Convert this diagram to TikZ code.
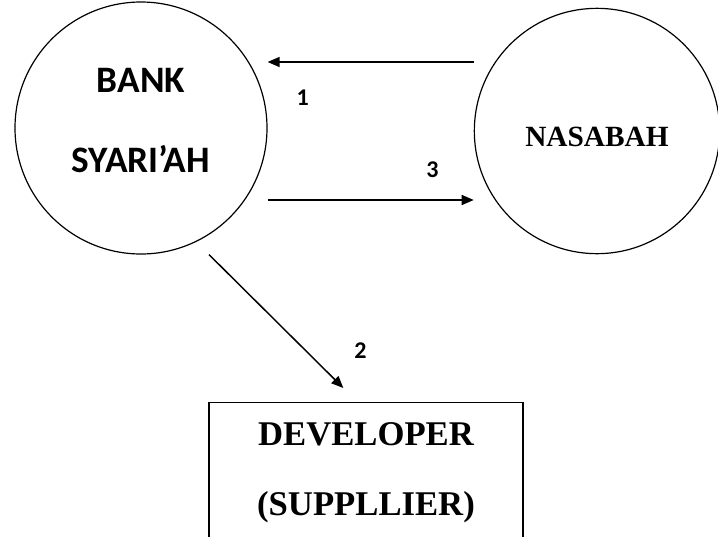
\documentclass[tikz,border=0pt]{standalone}
\usepackage{fontspec}
\setmainfont{Liberation Serif}
\newfontfamily\calibri{Carlito}
\usetikzlibrary{arrows.meta}

\tikzset{
  party/.style={draw, circle, line width=0.9pt, inner sep=0pt, align=center},
  flow/.style={line width=1.1pt, -{Triangle[length=9pt,width=7.5pt]}},
  num/.style={font=\calibri\bfseries\fontsize{18}{20}\selectfont}
}

\begin{document}
\begin{tikzpicture}[x=0.75pt, y=-0.75pt]
    \clip (0, 0) rectangle (718, 536);
    % the three parties
    \node[party, minimum size=189pt, text depth=12pt,
      font=\calibri\bfseries\fontsize{28}{60}\selectfont] (bank) at (141, 128) {BANK\\SYARI’AH};
    \node[party, minimum size=184pt, text height=23pt,
      font=\bfseries\fontsize{22}{26}\selectfont] (nasabah) at (597, 131) {NASABAH};
    \node[draw, line width=0.9pt, anchor=north, minimum width=235.5pt, inner ysep=15pt,
      text depth=40pt, align=center,
      font=\bfseries\fontsize{26}{52.5}\selectfont] (developer) at (366, 402) {DEVELOPER\\(SUPPLLIER)};
    % flows
    \draw[flow] (nasabah.west |- 0, 62) -- (bank.east |- 0, 62)
      node[num, pos=0.83, yshift=-27pt] (lab1) {1};
    \draw[flow] ([xshift=51pt]bank.south) -- ([xshift=-17pt, yshift=10.5pt]developer.north)
      node[num, pos=0.72, xshift=41pt] (lab2) {2};
    \draw[flow] (bank.east |- 0, 200) -- (nasabah.west |- 0, 200)
      node[num, pos=0.8, yshift=22.5pt] (lab3) {3};
\end{tikzpicture}
\end{document}
